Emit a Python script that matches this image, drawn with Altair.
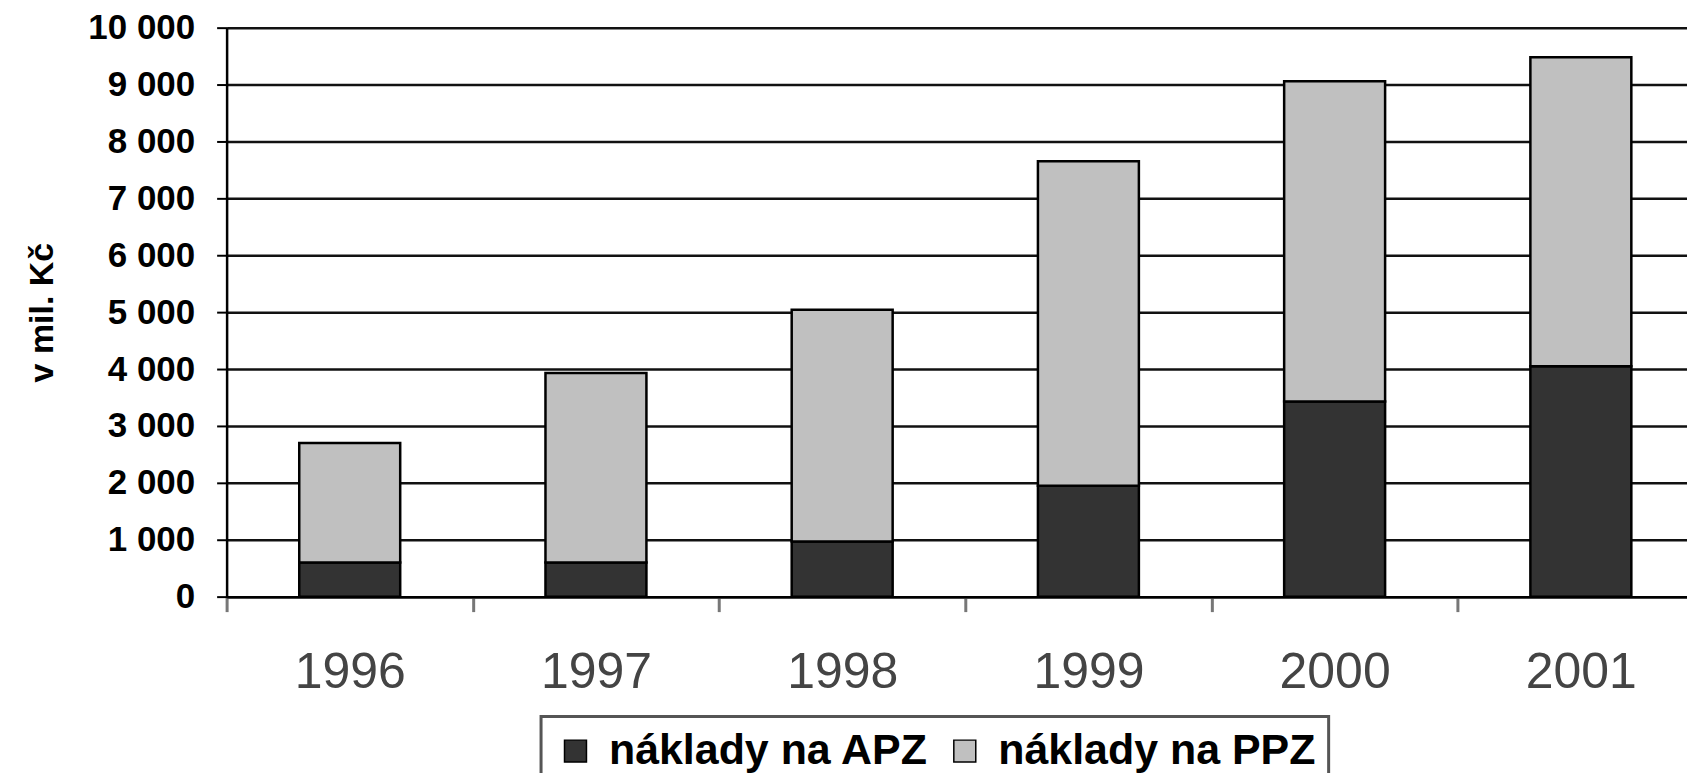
import altair as alt
import pandas as pd

years = ["1996", "1997", "1998", "1999", "2000", "2001"]
apz = [600, 600, 970, 1950, 3430, 4050]
ppz = [2100, 3330, 4070, 5700, 5630, 5430]
series = ["náklady na APZ", "náklady na PPZ"]
colors = ["#333333", "#c0c0c0"]
y_ticks = [0, 1000, 2000, 3000, 4000, 5000, 6000, 7000, 8000, 9000, 10000]
y_title = "v mil. Kč"

rows = []
for i, yr in enumerate(years):
    rows.append({"year": yr, "series": series[0], "value": apz[i], "ord": 0})
    rows.append({"year": yr, "series": series[1], "value": ppz[i], "ord": 1})
df = pd.DataFrame(rows)

chart = alt.Chart(df).mark_bar(stroke="black", strokeWidth=2.5, width={"band": 0.41}).encode(
    x=alt.X("year:N", sort=years,
            scale=alt.Scale(range=[0, 1480], paddingInner=0, paddingOuter=0),
            axis=alt.Axis(title=None, labelAngle=0, labelFont="Liberation Sans",
                          labelFontSize=50, labelColor="#444444", labelFontWeight="normal",
                          tickBand="extent", tickColor="#777777", tickWidth=3, tickSize=15,
                          labelPadding=36, domainColor="black", domainWidth=2.5, grid=False)),
    y=alt.Y("value:Q", stack="zero",
            scale=alt.Scale(domain=[0, 10000], nice=False),
            axis=alt.Axis(values=y_ticks, title=y_title,
                          labelExpr="replace(format(datum.value, ','), ',', ' ')",
                          labelFont="Liberation Sans", labelFontSize=35, labelFontWeight="bold",
                          labelColor="black", tickSize=10, tickColor="black", tickWidth=2,
                          labelPadding=22, domainColor="black", domainWidth=2.5,
                          gridColor="#111111", gridWidth=2.5,
                          titleFont="Liberation Sans", titleFontSize=34, titleFontWeight="bold",
                          titleColor="black", titleX=-184, titleY=285, titleAngle=270,
                          titleAlign="center", titleBaseline="middle")),
    color=alt.Color("series:N", sort=series,
                    scale=alt.Scale(domain=series, range=colors),
                    legend=alt.Legend(title=None, orient="none", legendX=315, legendY=690,
                                      direction="horizontal", symbolType="square",
                                      symbolSize=484, symbolStrokeColor="black",
                                      symbolStrokeWidth=1.5, labelFont="Liberation Sans",
                                      labelFontSize=43, labelFontWeight="bold",
                                      labelColor="black", labelOffset=12, columnPadding=14,
                                      labelLimit=0, padding=13, strokeColor="#555555")),
    order=alt.Order("ord:Q"),
).properties(
    width=1463, height=570,
    autosize=alt.AutoSizeParams(type="none"),
    padding={"left": 219, "top": 19, "right": 0, "bottom": 176},
).configure_view(stroke=None).configure_legend(strokeWidth=3)

chart.save("out.html", embed_options={"renderer": "svg", "actions": False})
